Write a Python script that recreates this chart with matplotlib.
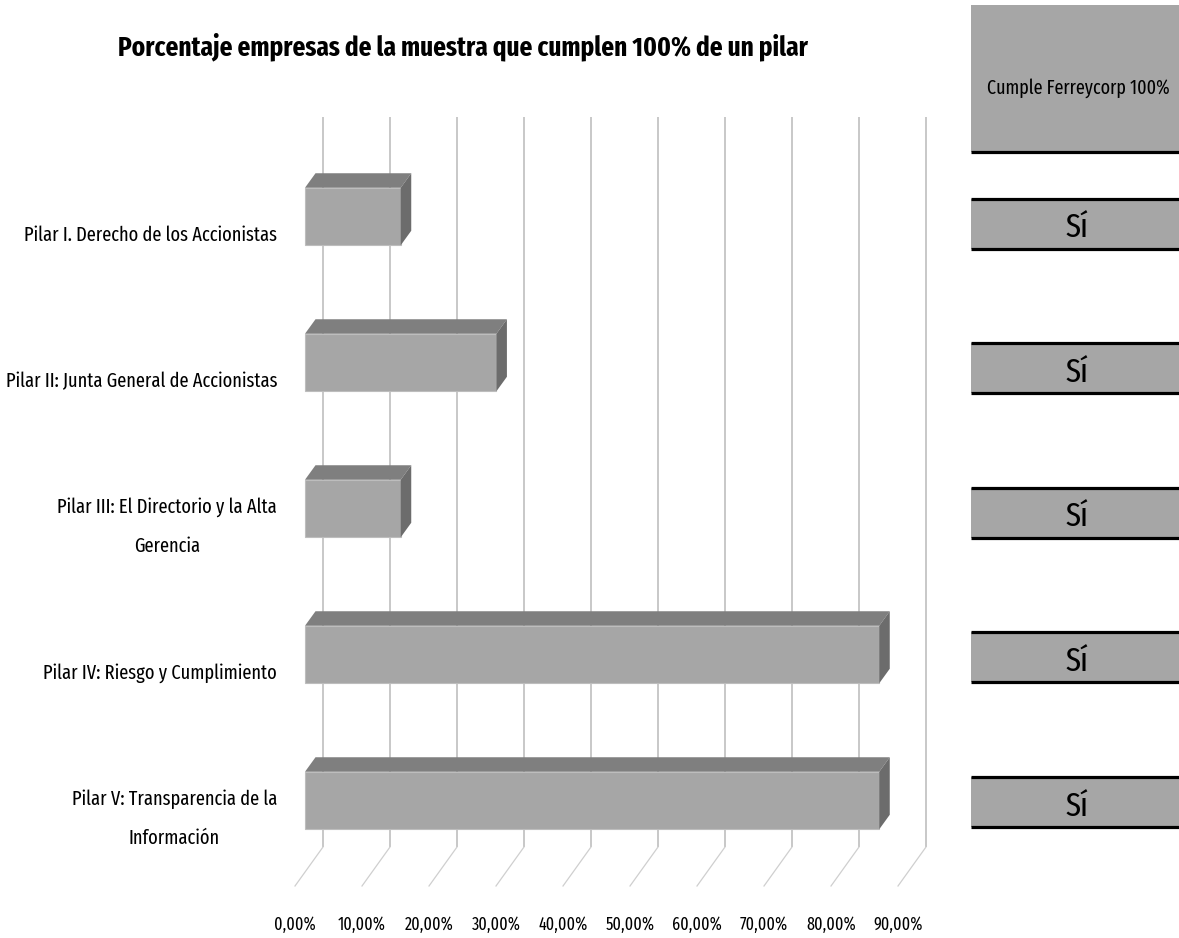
import os
import numpy as np
import matplotlib
matplotlib.use("Agg")
import matplotlib.pyplot as plt
from matplotlib import font_manager
from matplotlib.font_manager import FontProperties
from matplotlib.patches import Polygon

# ---------------- data ----------------
title = "Porcentaje empresas de la muestra que cumplen 100% de un pilar"
categories = [
    "Pilar I. Derecho de los Accionistas",
    "Pilar II: Junta General de Accionistas",
    "Pilar III: El Directorio y la Alta\nGerencia",
    "Pilar IV: Riesgo y Cumplimiento",
    "Pilar V: Transparencia de la\nInformación",
]
values = [14.29, 28.57, 14.29, 85.71, 85.71]          # % of sample companies
ticks = [0, 10, 20, 30, 40, 50, 60, 70, 80, 90]
tick_labels = ["0,00%", "10,00%", "20,00%", "30,00%", "40,00%",
               "50,00%", "60,00%", "70,00%", "80,00%", "90,00%"]
table_header = "Cumple Ferreycorp 100%"
table_values = ["Sí", "Sí", "Sí", "Sí", "Sí"]


# ---------------- fonts: look for a narrow / condensed face ----------------
def _is_bold(f):
    w = f.weight
    if isinstance(w, str):
        return w.lower() == "bold"
    return int(w) == 700


def _is_regular(f):
    w = f.weight
    if isinstance(w, str):
        return w.lower() in ("normal", "regular", "book", "400")
    return int(w) == 400


def find_narrow(bold):
    best, best_score = None, -1
    for f in font_manager.fontManager.ttflist:
        if f.style != "normal":
            continue
        if bold and not _is_bold(f):
            continue
        if not bold and not _is_regular(f):
            continue
        key = (f.name + " " + os.path.basename(f.fname)).lower().replace(" ", "").replace("-", "")
        if "mono" in key or ("serif" in key and "sansserif" not in key):
            continue
        score = -1
        if "liberationsansnarrow" in key:
            score = 10
        elif "notosans" in key and "extracondensed" in key and "display" not in key:
            score = 9
        elif "extracondensed" in key:
            score = 8
        elif "narrow" in key:
            score = 7
        elif "semicondensed" in key:
            score = 3
        elif "condensed" in key:
            score = 5
        if score > best_score:
            best, best_score = f, score
    return best


reg = find_narrow(False)
bld = find_narrow(True)
REG = FontProperties(fname=reg.fname) if reg else FontProperties(family="DejaVu Sans", stretch="condensed")
BLD = FontProperties(fname=bld.fname) if bld else FontProperties(family="DejaVu Sans", stretch="condensed", weight="bold")

# ---------------- figure ----------------
W, H, DPI = 1179, 938, 100
fig = plt.figure(figsize=(W / DPI, H / DPI), dpi=DPI)
fig.patch.set_facecolor("white")

PX_PCT = 6.7        # pixels per 1 %
PX_CAT = 146.0      # pixels per category
X0 = 305.0          # 0 % on the bar front plane
Y0 = 216.5          # centre of first bar front face
AL, AR, AT, AB = 280, 950, 100, 938
ax = fig.add_axes([AL / W, 1 - AB / H, (AR - AL) / W, (AB - AT) / H])
ax.set_xlim((AL - X0) / PX_PCT, (AR - X0) / PX_PCT)
ax.set_ylim((AB - Y0) / PX_CAT, (AT - Y0) / PX_CAT)
ax.axis("off")


def dx(px):
    return px / PX_PCT


def dy(px):
    return px / PX_CAT


bar_h = dy(57.5)
depth_dx, depth_dy = dx(10.5), dy(-14.5)
back_dx, front_dx = dx(18), dx(-10)
grid_top = dy(117 - Y0)
floor_back = dy(847 - Y0)
floor_front = dy(886 - Y0)

# back-wall gridlines and floor lines
for t in ticks:
    ax.plot([t + back_dx, t + back_dx], [grid_top, floor_back],
            color="#c4c4c4", lw=1.3, zorder=1, solid_capstyle="butt")
    ax.plot([t + back_dx, t + front_dx], [floor_back, floor_front],
            color="#cfcfcf", lw=0.9, zorder=1)

# 3D-looking bars
ypos = np.arange(len(values))
ax.barh(ypos, values, height=bar_h, left=0, color="#a6a6a6",
        edgecolor="#bdbdbd", linewidth=0.8, zorder=3)
for yi, v in zip(ypos, values):
    top, bot = yi - bar_h / 2, yi + bar_h / 2
    ax.add_patch(Polygon([(0, top), (v, top), (v + depth_dx, top + depth_dy),
                          (depth_dx, top + depth_dy)], closed=True,
                         facecolor="#7f7f7f", edgecolor="none", zorder=3))
    ax.add_patch(Polygon([(v, top), (v + depth_dx, top + depth_dy),
                          (v + depth_dx, bot + depth_dy), (v, bot)], closed=True,
                         facecolor="#6c6c6c", edgecolor="none", zorder=3))

# category labels
lab_x = dx(277 - X0)
cat_texts = []
for yi, c in zip(ypos, categories):
    cat_texts.append(ax.text(lab_x, yi + dy(18.5), c, ha="right", va="center",
                             multialignment="center", fontproperties=REG,
                             fontsize=14, color="black"))

# x tick labels along the floor front edge
tick_texts = []
for t, lbl in zip(ticks, tick_labels):
    tick_texts.append(ax.text(t + front_dx, dy(930 - Y0), lbl, ha="center",
                              va="baseline", fontproperties=REG, fontsize=12,
                              color="black"))

title_txt = fig.text(463 / W, 1 - 55 / H, title, ha="center", va="baseline",
                     fontproperties=BLD, fontsize=18, color="black")

# ---------------- right table ----------------
R0, RS = 223.6, 144.6
TL = 971
axr = fig.add_axes([TL / W, 0, (W - TL) / W, 1])
axr.set_xlim(0, 1)
axr.set_ylim((H - R0) / RS, (0 - R0) / RS)
axr.axis("off")

rows = np.arange(len(table_values))
box_h = 50 / RS
axr.barh(rows, 1, height=box_h, left=0, color="#a6a6a6", zorder=2)
axr.hlines(np.r_[rows - box_h / 2, rows + box_h / 2], 0, 1, color="black",
           lw=2.3, zorder=3)
head_y, head_h = -1.0, 147 / RS
axr.barh([head_y], 1, height=head_h, left=0, color="#a6a6a6", zorder=2)
axr.hlines([head_y + head_h / 2], 0, 1, color="black", lw=2.3, zorder=3)

head_txt = axr.text(0.5 + 3 / (W - TL), head_y + 15 / RS, table_header,
                    ha="center", va="baseline", fontproperties=REG,
                    fontsize=14, color="black")
val_texts = []
for r, s in zip(rows, table_values):
    val_texts.append(axr.text(0.5 + 2 / (W - TL), r + 13.5 / RS, s, ha="center",
                              va="baseline", fontproperties=REG, fontsize=18,
                              color="black"))

# ---------------- fit text widths to the reference ----------------
fig.canvas.draw()
renderer = fig.canvas.get_renderer()


def fit(objs, refs, target_px):
    for _ in range(3):
        w = sum(r.get_window_extent(renderer).width for r in refs)
        fs = refs[0].get_fontsize() * target_px / w
        for o in objs:
            o.set_fontsize(fs)
    return refs[0].get_fontsize()


fit([title_txt], [title_txt], 690)
fs_cat = fit(cat_texts, [cat_texts[0], cat_texts[3]], 240 + 247)
fit(tick_texts, [tick_texts[1]], 48)
fit([head_txt], [head_txt], 183)
fit(val_texts, [val_texts[0]], 23)

probe1 = fig.text(0, 0, "Ag", fontproperties=REG, fontsize=fs_cat, linespacing=1.0)
probe2 = fig.text(0, 0, "Ag\nAg", fontproperties=REG, fontsize=fs_cat, linespacing=1.0)
h1 = probe1.get_window_extent(renderer).height
h2 = probe2.get_window_extent(renderer).height
probe1.remove()
probe2.remove()
ls = 44.0 / max(h2 - h1, 1e-6)
for o in cat_texts:
    o.set_linespacing(ls)

fig.savefig("out.png", dpi=DPI, facecolor="white")
